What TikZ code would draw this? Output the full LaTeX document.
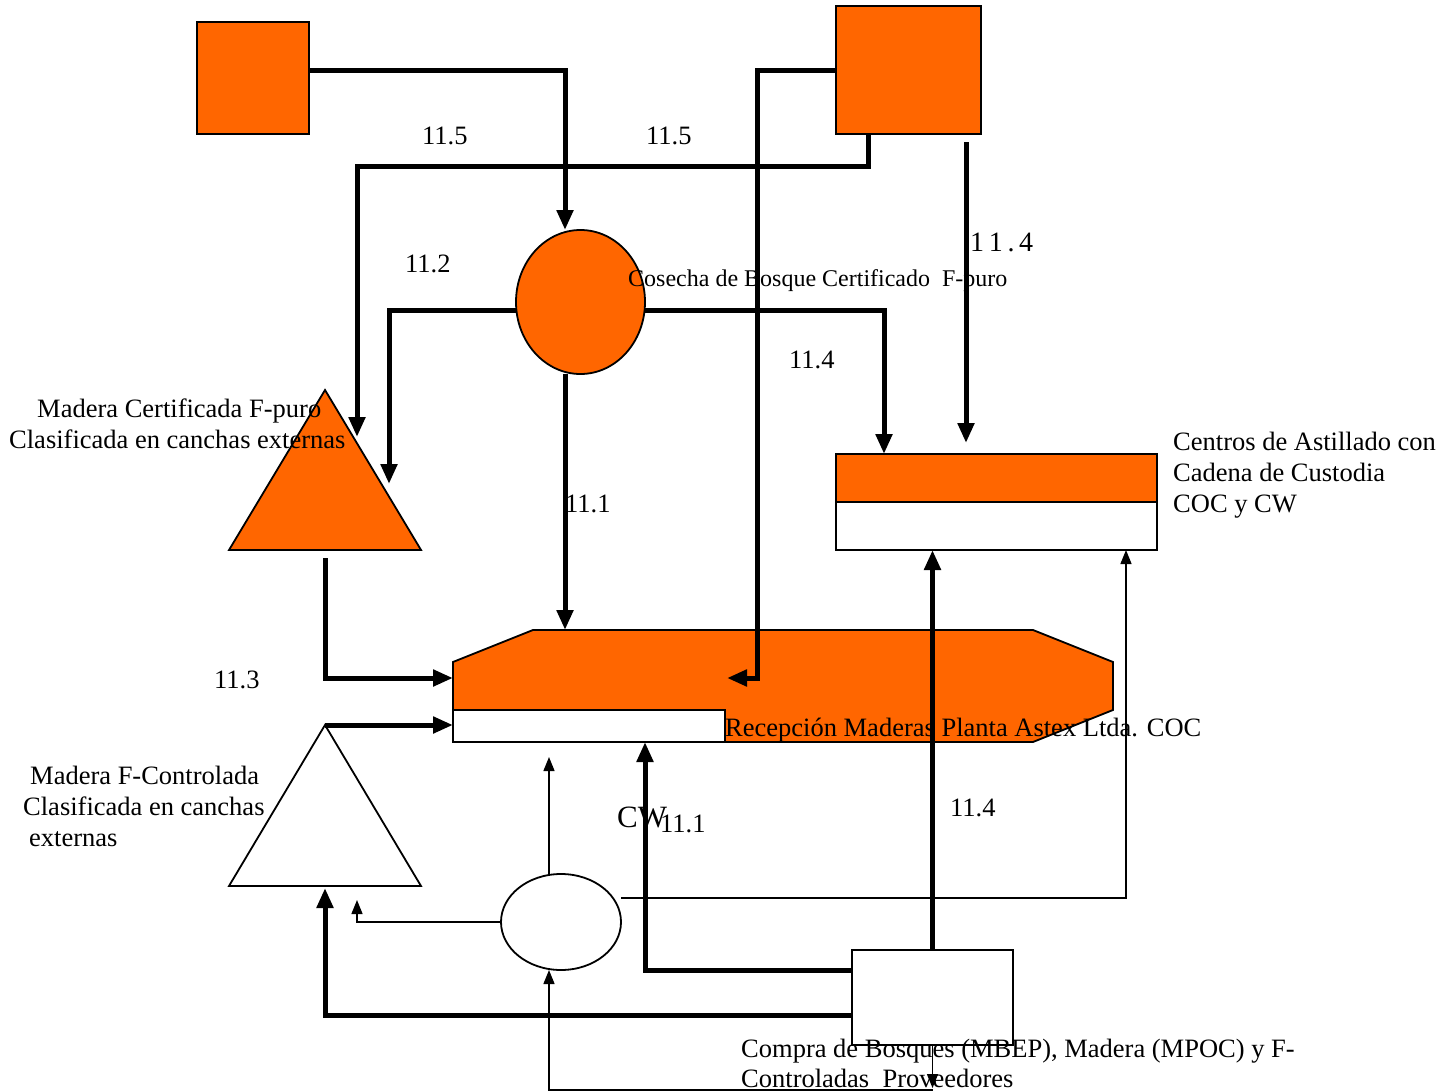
\documentclass[tikz,border=0pt]{standalone}
\usepackage{fontspec}
\setmainfont{Liberation Serif}
\usetikzlibrary{arrows.meta,shapes.geometric}
\definecolor{org}{HTML}{FF6600}
\begin{document}
\begin{tikzpicture}[x=1pt,y=-1pt,
  thk/.style={line width=5pt,-{Triangle[length=20pt,width=16pt]}},
  thn/.style={line width=1.4pt,-{Triangle[length=14pt,width=11pt]}},
  box/.style={draw,line width=1.8pt,inner sep=0pt,outer sep=0pt},
  lbl/.style={font=\fontsize{26.5}{31}\selectfont,inner sep=0pt,anchor=base west}]
\useasboundingbox (0,0) rectangle (1454,1092);
% ---- shapes
\node[box,fill=org,minimum width=112pt,minimum height=112pt] (sqA) at (253,78) {};
\node[box,fill=org,minimum width=145pt,minimum height=128pt] (sqB) at (908.5,70) {};
\node[box,ellipse,fill=org,minimum width=129pt,minimum height=144pt] (cO) at (580.5,302) {};
\node[box,ellipse,fill=white,minimum width=120pt,minimum height=96pt] (cW) at (561,922) {};
\node[box,fill=org,minimum width=321pt,minimum height=48pt] (ctA) at (996.5,478) {};
\node[box,fill=white,minimum width=321pt,minimum height=48pt,anchor=north] (ctB) at (ctA.south) {};
\node[box,fill=white,minimum width=161pt,minimum height=95pt] (buy) at (932.5,997.5) {};
\draw[fill=org,line width=1.8pt] (453,662) -- (533,630) -- (1033,630) -- (1113,662) -- (1113,710) -- (1033,742) -- (533,742) -- (453,710) -- cycle;
\node[box,fill=white,minimum width=272pt,minimum height=32pt] (recW) at (589,726) {};
\draw[fill=org,line width=1.8pt] (325,390) -- (421,550) -- (229,550) -- cycle;
\draw[fill=white,line width=1.8pt] (325,725) -- (421,886) -- (229,886) -- cycle;
% ---- named points
\coordinate (tOtip1) at (357,437);
\coordinate (tOtip2) at (389,484);
\coordinate (tObase) at (325,558);
\coordinate (tWapex) at (325,725);
\coordinate (tWbase) at (325,888);
\coordinate (tWnear) at (357,900);
\coordinate (recTop) at (565,630);
\coordinate (recLeft) at (453,678);
\coordinate (recIn) at (727,678);
\coordinate (a4s) at (966,142);
\coordinate (a4e) at (966,443);
\coordinate (cwUp) at (549,757);
\coordinate (buyDown) at (932.5,1088);
\coordinate (botL) at (932.5,1090);
% ---- texts
\node[lbl] (t1) at (422,144) {11.5};
\node[lbl] (t2) at (646,144) {11.5};
\node[lbl] (t3) at (405,272) {11.2};
\node[lbl,font=\fontsize{28}{31}\selectfont] (t4) at (970,251) {1\,1\,.\,4};
\node[lbl,font=\fontsize{24}{31}\selectfont] (t5) at (628,286) {Cosecha de Bosque Certificado\ \ F-puro};
\node[lbl] (t6) at (789,368) {11.4};
\node[lbl] (t7) at (37,417) {Madera Certificada F-puro};
\node[lbl] (t8) at (9,448) {Clasificada en canchas externas};
\node[lbl] (t9) at (565,512) {11.1};
\node[lbl] (t10) at (1173,450) {Centros de Astillado con};
\node[lbl] (t11) at (1173,481) {Cadena de Custodia};
\node[lbl] (t12) at (1173,512) {COC y CW};
\node[lbl] (t13) at (214,688) {11.3};
\node[lbl] (t14) at (725,736) {Recepción Maderas Planta Astex Ltda. COC};
\node[lbl] (t15) at (30,784) {Madera F-Controlada};
\node[lbl] (t16) at (23,815) {Clasificada en canchas};
\node[lbl] (t17) at (29,846) {externas};
\node[lbl,font=\fontsize{31}{31}\selectfont] (t18) at (617,827) {CW};
\node[lbl] (t19) at (660,832) {11.1};
\node[lbl] (t20) at (950,816) {11.4};
\node[lbl] (t21) at (741,1057) {Compra de Bosques (MBEP), Madera (MPOC) y F-};
\node[lbl] (t22) at (741,1087) {Controladas\ \ Proveedores};
% ---- connectors
\draw[thk] ([yshift=8pt]sqA.east) -| ([xshift=-15.5pt]cO.north);
\draw[thk] ([xshift=-40.5pt]sqB.south) -- ++(0,32) -| (tOtip1);
\draw[thk] (sqB.west) -- (757,70) |- (recIn);
\draw[thk] (a4s) -- (a4e);
\draw[thk] ([yshift=-8pt]cO.west) -| (tOtip2);
\draw[thk] ([yshift=-8pt]cO.east) -| ([xshift=-112.5pt]ctA.north);
\draw[thk] ([xshift=-15.5pt]cO.south) -- (recTop);
\draw[thk] (tObase) |- (recLeft);
\draw[thk] (tWapex) -- (recW.west |- tWapex);
\draw[thn] ([xshift=-12pt]cW.north) -- (cwUp);
\draw[thk] ([yshift=27.5pt]buy.west) -| ([xshift=56pt]recW.south);
\draw[thk] (buy.north) -- ([xshift=-64pt]ctB.south);
\draw[thn] ([yshift=24pt]cW.east) -| ([xshift=129.5pt]ctB.south);
\draw[thn] (cW.west) -| (tWnear);
\draw[thk] ([yshift=-17.5pt]buy.west) -| (tWbase);
\draw[thn] (buy.south) -- (buyDown);
\draw[thn] (botL) -| ([xshift=-12pt]cW.south);
\end{tikzpicture}
\end{document}
